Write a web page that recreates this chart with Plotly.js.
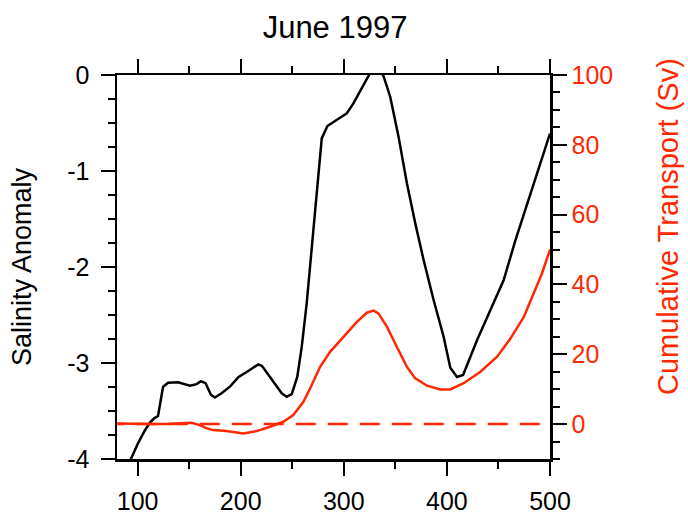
<!DOCTYPE html>
<html>
<head>
<meta charset="utf-8">
<script src="https://cdn.plot.ly/plotly-3.0.1.min.js"></script>
<style>html,body{margin:0;padding:0;background:#fff;}#chart{width:688px;height:515px;}</style>
</head>
<body>
<div id="chart"></div>
<script>
// Salinity anomaly (left axis)
const salX = [85, 93.3, 100.4, 106.9, 112, 116, 119.8, 124.7, 129.6, 139.3, 150.7, 157.2, 161.3, 165.9, 171.1, 175, 181.4, 189.5, 197.6, 207.3, 217, 220.5, 230, 239.8, 244.6, 249.5, 254.9, 259.2, 264, 268.9, 273.8, 278.6, 284.1, 293.2, 302.9, 309.3, 315.5, 321, 326, 331, 336, 338.5, 345, 353.1, 361.2, 369.3, 377.4, 387.1, 396.8, 403.3, 409.8, 415.7, 429.3, 442.2, 455.1, 466.5, 481.1, 490.8, 500];
const salY = [-4.2, -4.0, -3.836, -3.705, -3.62, -3.576, -3.552, -3.247, -3.205, -3.2, -3.236, -3.22, -3.19, -3.21, -3.33, -3.36, -3.316, -3.247, -3.149, -3.083, -3.014, -3.03, -3.177, -3.316, -3.351, -3.323, -3.142, -2.83, -2.378, -1.823, -1.233, -0.66, -0.531, -0.469, -0.4, -0.295, -0.17, -0.06, 0.03, 0.06, 0.03, -0.01, -0.226, -0.642, -1.128, -1.545, -1.927, -2.344, -2.726, -3.05, -3.145, -3.125, -2.76, -2.448, -2.135, -1.72, -1.233, -0.92, -0.61];

// Cumulative transport (right axis, Sv)
const trX = [80, 95.5, 111.8, 128, 140.9, 152.3, 160.4, 166, 173.3, 186.3, 202.4, 215.5, 228.4, 241.3, 251, 260.8, 267.3, 277, 286.7, 299.6, 312.7, 322.4, 328.8, 333.6, 341.8, 351.5, 361.2, 369.3, 380.7, 393.6, 403.3, 416.3, 432.5, 448.7, 461.6, 474.6, 484.3, 492, 500];
const trY = [0.2, 0, 0, 0, 0.2, 0.37, -0.29, -1.1, -1.72, -2.0, -2.67, -2.0, -0.77, 0.66, 2.58, 6.39, 10.2, 16.4, 20.7, 25, 29.3, 31.9, 32.5, 31.7, 27.9, 22.1, 16.4, 13.1, 11, 9.94, 9.94, 11.7, 15, 19.3, 24.5, 30.7, 37.4, 43, 50];

// Zero reference line (right axis)
const zeroX = [80, 500];
const zeroY = [0, 0];

// Tick labels
const xTickVals = [100, 200, 300, 400, 500];
const xTickText = ['100', '200', '300', '400', '500'];
const yTickVals = [0, -1, -2, -3, -4];
const yTickText = ['0', '-1', '-2', '-3', '-4'];
const y2TickVals = [0, 20, 40, 60, 80, 100];
const y2TickText = ['0', '20', '40', '60', '80', '100'];

const RED = '#ff2800';
const FONT = 'Liberation Sans, Arial, Helvetica, sans-serif';

const traces = [
  {x: salX, y: salY, type: 'scatter', mode: 'lines', line: {color: '#000', width: 2.5}, yaxis: 'y', hoverinfo: 'skip'},
  {x: zeroX, y: zeroY, type: 'scatter', mode: 'lines', line: {color: RED, width: 2.5, dash: '6.8px,12px,13.2px,0px'}, yaxis: 'y2', hoverinfo: 'skip'},
  {x: trX, y: trY, type: 'scatter', mode: 'lines', line: {color: RED, width: 2.5}, yaxis: 'y2', hoverinfo: 'skip'}
];

const layout = {
  width: 688, height: 515,
  margin: {l: 117, r: 138, t: 75, b: 56, pad: 0},
  paper_bgcolor: '#fff', plot_bgcolor: '#fff',
  showlegend: false,
  font: {family: FONT, size: 24, color: '#000'},
  title: {text: 'June 1997', font: {family: FONT, size: 31, color: '#000'}, x: 0.487, xanchor: 'center', y: 0.9476, yanchor: 'middle', yref: 'container'},
  xaxis: {
    range: [80, 500], tickmode: 'array', tickvals: xTickVals, ticktext: xTickText,
    showgrid: false, zeroline: false,
    showline: true, linecolor: '#000', linewidth: 2.5, mirror: 'ticks',
    ticks: 'outside', ticklen: 14, tickwidth: 2, tickcolor: '#000',
    ticklabelstandoff: 4,
    tickfont: {family: FONT, size: 25, color: '#000'},
    minor: {tickmode: 'linear', tick0: 0, dtick: 50, ticks: 'outside', ticklen: 7, tickwidth: 2, tickcolor: '#000', showgrid: false}
  },
  yaxis: {
    range: [-4, 0], tickmode: 'array', tickvals: yTickVals, ticktext: yTickText,
    showgrid: false, zeroline: false,
    showline: true, linecolor: '#000', linewidth: 2.5,
    ticks: 'outside', ticklen: 14, tickwidth: 2, tickcolor: '#000',
    ticklabelstandoff: 6,
    tickfont: {family: FONT, size: 25, color: '#000'},
    minor: {tickmode: 'linear', tick0: 0, dtick: 0.25, ticks: 'outside', ticklen: 7, tickwidth: 2, tickcolor: '#000', showgrid: false},
    title: {text: 'Salinity Anomaly', font: {family: FONT, size: 27, color: '#000'}, standoff: 28}
  },
  yaxis2: {
    overlaying: 'y', side: 'right',
    range: [-10, 100], tickmode: 'array', tickvals: y2TickVals, ticktext: y2TickText,
    showgrid: false, zeroline: false,
    showline: true, linecolor: '#000', linewidth: 2.5,
    ticks: 'outside', ticklen: 14, tickwidth: 2, tickcolor: '#000',
    tickfont: {family: FONT, size: 25, color: RED},
    minor: {tickmode: 'linear', tick0: 0, dtick: 5, ticks: 'outside', ticklen: 7, tickwidth: 2, tickcolor: '#000', showgrid: false}
  },
  annotations: [{
    text: 'Cumulative Transport (Sv)', textangle: -90,
    xref: 'paper', yref: 'paper', x: (668 - 117) / 433, y: (459 - 227) / 384,
    xanchor: 'center', yanchor: 'middle', showarrow: false,
    font: {family: FONT, size: 29, color: RED}
  }]
};

Plotly.newPlot('chart', traces, layout, {staticPlot: true, displayModeBar: false});
</script>
</body>
</html>
